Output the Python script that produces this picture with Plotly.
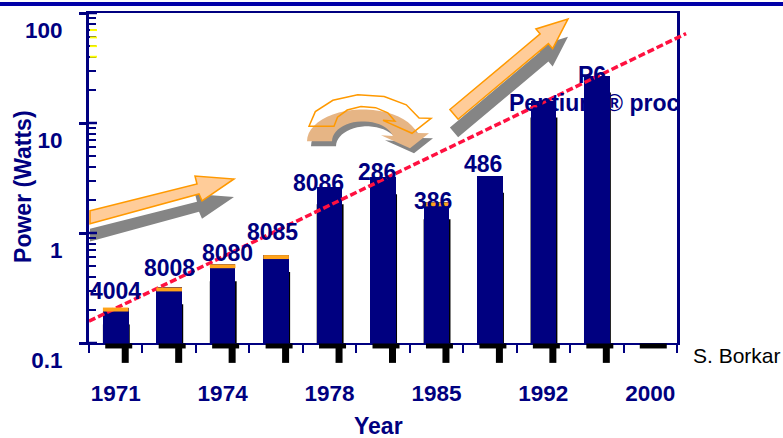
import numpy as np
import plotly.graph_objects as go

# ---------------- data ----------------
chips = ["4004", "8008", "8080", "8085", "8086", "286", "386", "486",
         "Pentium ® proc", "P6", ""]
power_w = [0.21, 0.32, 0.52, 0.63, 2.6, 3.2, 1.9, 3.3, 16, 27, None]
capped = [True, True, True, True, False, False, True, False, False, False, False]
year_ticks = ["1971", "1974", "1978", "1985", "1992", "2000"]
year_tick_slots = [0, 2, 4, 6, 8, 10]
trend_pos = [-0.5, 10.67]
trend_watts = [0.158, 65]
ytick_vals = [0.1, 1, 10, 100]
ytick_text = ["0.1", "1", "10", "100"]

# ---------------- style ----------------
NAVY = "#000080"
RED = "#FF1040"
ORANGE = "#FF9900"
PEACH = "#FFCC99"
GRAY = "#858585"
FONT = "Liberation Sans"
label_dx = [0, 0, 5, -4, -11, -6, -3, -7, 51, -5, 0]
label_dy = [17, 19, 11, 23, 4, 5, 1, 12, -2, 1, 0]

W, H = 783, 438
L, R, T, B = 89, 93, 11, 95
PW = W - L - R          # paper width in px
PH = H - T - B          # paper height in px
PLOT_RIGHT = 677
n = len(chips)
slot = (PLOT_RIGHT - L) / n
xdom = (PLOT_RIGHT - L) / PW
BAR_W = 0.48


def px(x):
    return (x - L) / PW


def py(y):
    return (H - B - y) / PH


def cx(i):
    return L + (i + 0.5) * slot


def ylog(v):
    return (np.log10(v) + 1) / 3


def path(pts):
    return "M " + " L ".join(f"{px(x):.5f},{py(y):.5f}" for x, y in pts) + " Z"


fig = go.Figure()
fig.add_trace(go.Bar(x=list(range(n)), y=power_w, width=BAR_W,
                     marker=dict(color=NAVY, line=dict(width=0)),
                     xaxis="x", yaxis="y", hoverinfo="skip"))
fig.add_trace(go.Scatter(x=trend_pos, y=trend_watts, mode="lines",
                         line=dict(color=RED, width=3.5, dash="7px,3px"),
                         xaxis="x2", yaxis="y2", hoverinfo="skip"))

shapes = []
# top blue band
shapes.append(dict(type="rect", xref="paper", yref="paper", x0=px(0), x1=px(W),
                   y0=py(4), y1=py(0), fillcolor="#0000A8", line=dict(width=0)))
# inside part of major y ticks
for v in ytick_vals:
    shapes.append(dict(type="line", xref="paper", yref="paper", x0=px(89), x1=px(97),
                       y0=ylog(v), y1=ylog(v), line=dict(color=NAVY, width=2.5)))
# yellow minor ticks near top
for v in [40, 50, 60, 70]:
    shapes.append(dict(type="line", xref="paper", yref="paper", x0=px(90), x1=px(97),
                       y0=ylog(v), y1=ylog(v), line=dict(color="#FFFF00", width=2)))
# black strips and stubs below the axis
for i in range(n):
    c = cx(i) + 3
    shapes.append(dict(type="rect", xref="paper", yref="paper",
                       x0=px(c - 13.5), x1=px(c + 13.5), y0=py(348.5), y1=py(343.5),
                       fillcolor="black", line=dict(width=0)))
    if i < n - 1:
        s = cx(i) + 9.5
        shapes.append(dict(type="rect", xref="paper", yref="paper",
                           x0=px(s - 3.5), x1=px(s + 3.5), y0=py(363), y1=py(348),
                           fillcolor="black", line=dict(width=0)))
# bar shadows (thin black edge at right) and orange caps
hw = BAR_W / 2 * slot
for i in range(n):
    if power_w[i]:
        top = ylog(power_w[i])
        shapes.append(dict(type="rect", xref="paper", yref="paper", layer="below",
                           x0=px(cx(i) - hw), x1=px(cx(i) + hw + 1.2),
                           y0=0, y1=top - 17 / PH,
                           fillcolor="black", line=dict(width=0)))
        if capped[i]:
            shapes.append(dict(type="rect", xref="paper", yref="paper",
                               x0=px(cx(i) - hw), x1=px(cx(i) + hw), y0=top - 4 / PH, y1=top,
                               fillcolor="#FFA31A", line=dict(width=0)))

# straight arrow 1
a1 = [(90, 210), (197, 183), (195, 175), (234, 178), (202, 200), (199, 193), (90, 223)]
# straight arrow 3
tip = np.array([568.0, 17.0])
c0 = np.array([454.0, 113.0])
u = (tip - c0) / np.linalg.norm(tip - c0)
nv = np.array([-u[1], u[0]])
if nv[1] < 0:
    nv = -nv
hb = tip - 31 * u
a3 = [tuple(c0 - 6.4 * nv), tuple(hb - 6.4 * nv), tuple(hb - 13 * nv), tuple(tip),
      tuple(hb + 13 * nv), tuple(hb + 6.4 * nv), tuple(c0 + 6.4 * nv)]


def arc_arrow(k):
    ccx, ccy = 363, 140
    th = np.linspace(np.pi, np.radians(15), k)
    outer = [(ccx + 56 * np.cos(t), ccy - 32 * np.sin(t)) for t in th]
    inner = [(ccx + 31 * np.cos(t), ccy - 20 * np.sin(t)) for t in th[::-1]]
    head = [(429, 132), (410, 147), (381, 134)]
    return outer + head + inner


def shift(pts, dx, dy):
    return [(x + dx, y + dy) for x, y in pts]


for pts in (a1, a3):
    shapes.append(dict(type="path", xref="paper", yref="paper", layer="below",
                       path=path(shift(pts, 0, 18)), fillcolor=GRAY, line=dict(width=0)))
    shapes.append(dict(type="path", xref="paper", yref="paper", layer="below",
                       path=path(pts), fillcolor=PEACH, line=dict(color=ORANGE, width=1.5)))
arc = arc_arrow(24)
shapes.append(dict(type="path", xref="paper", yref="paper", layer="below",
                   path=path(shift(arc, 4, 5)), fillcolor=GRAY, line=dict(width=0)))
shapes.append(dict(type="path", xref="paper", yref="paper", layer="below",
                   path=path(arc), fillcolor="#E6B585", line=dict(width=0)))
shapes.append(dict(type="path", xref="paper", yref="paper", layer="below",
                   path=path(shift(arc_arrow(7), 2, -15)), fillcolor="rgba(0,0,0,0)",
                   line=dict(color=ORANGE, width=1.5)))

annotations = []
for i, name in enumerate(chips):
    if name and power_w[i]:
        annotations.append(dict(x=i, y=float(np.log10(power_w[i])), xref="x", yref="y",
                                text=name, showarrow=False, xanchor="center",
                                yanchor="middle", xshift=label_dx[i], yshift=label_dy[i],
                                font=dict(family=FONT, size=23, color=NAVY, weight="bold")))
annotations.append(dict(x=px(23), y=py(186), xref="paper", yref="paper",
                        text="Power (Watts)", textangle=-90, showarrow=False,
                        xanchor="center", yanchor="middle",
                        font=dict(family=FONT, size=23, color=NAVY, weight="bold")))
annotations.append(dict(x=px(378), y=py(427), xref="paper", yref="paper",
                        text="Year", showarrow=False, xanchor="center", yanchor="middle",
                        font=dict(family=FONT, size=23, color=NAVY, weight="bold")))
annotations.append(dict(x=px(691), y=py(356), xref="paper", yref="paper",
                        text="S. Borkar", showarrow=False, xanchor="left", yanchor="middle",
                        font=dict(family=FONT, size=21, color="black")))

fig.update_layout(
    width=W, height=H, margin=dict(l=L, r=R, t=T, b=B),
    paper_bgcolor="white", plot_bgcolor="rgba(0,0,0,0)",
    showlegend=False, bargap=0,
    shapes=shapes, annotations=annotations,
    xaxis=dict(domain=[0, xdom], range=[-0.5, n - 0.5], anchor="y",
               tickvals=year_tick_slots, ticktext=year_ticks, ticks="",
               showline=True, linecolor=NAVY, linewidth=2, mirror=True,
               showgrid=False, zeroline=False, ticklabelstandoff=29,
               tickfont=dict(family=FONT, size=22.5, color=NAVY, weight="bold"),
               minor=dict(ticks="outside", tick0=-0.5, dtick=1, ticklen=8,
                          tickwidth=2, tickcolor=NAVY, showgrid=False)),
    yaxis=dict(type="log", range=[-1, 2], domain=[0, 1], anchor="x",
               tickvals=ytick_vals, ticktext=ytick_text, ticks="outside",
               ticklen=7, tickwidth=2.5, tickcolor=NAVY,
               showline=True, linecolor=NAVY, linewidth=3, mirror=True,
               showgrid=False, zeroline=False,
               ticklabelshift=17, ticklabelstandoff=12,
               tickfont=dict(family=FONT, size=22.5, color=NAVY, weight="bold"),
               minor=dict(ticks="inside", ticklen=7, tickwidth=2, tickcolor=NAVY,
                          dtick="D1", showgrid=False)),
    xaxis2=dict(domain=[0, 1], range=[-0.5, -0.5 + PW / slot], anchor="y2",
                visible=False),
    yaxis2=dict(type="log", range=[-1, 2], domain=[0, 1], anchor="x2", visible=False),
)

fig.write_html("out.html")
